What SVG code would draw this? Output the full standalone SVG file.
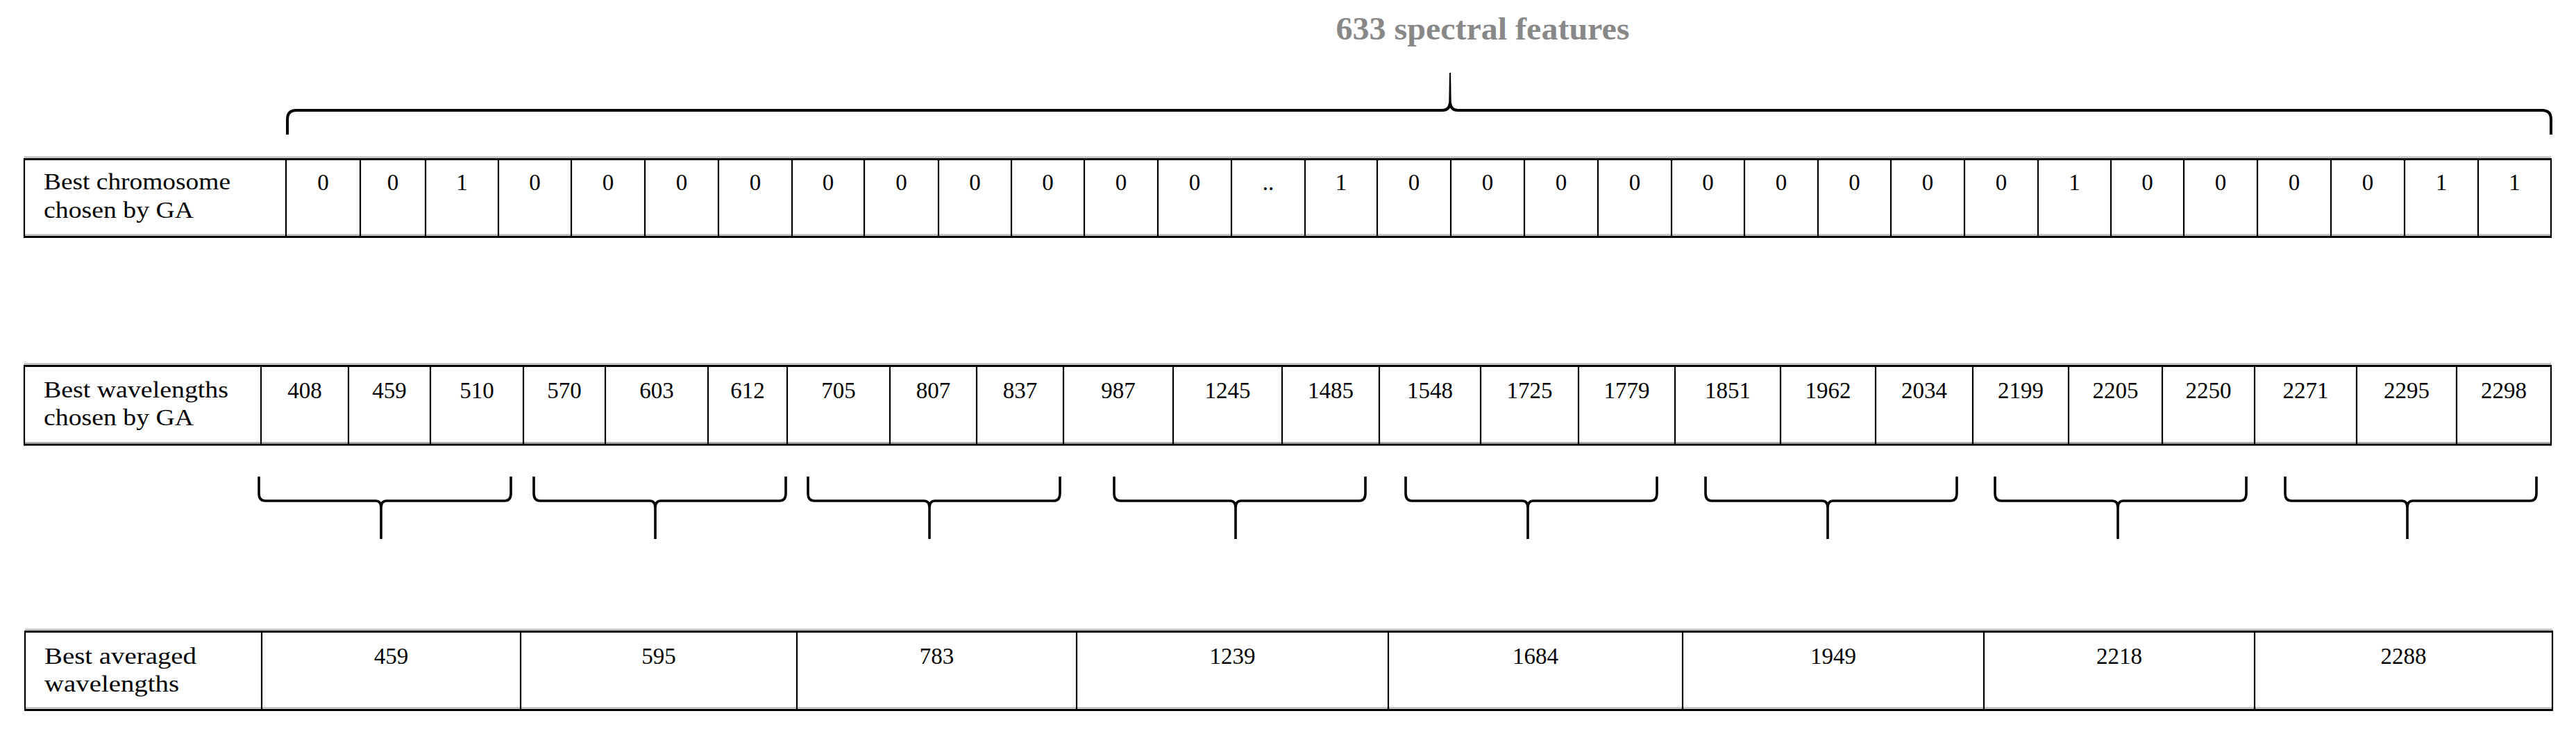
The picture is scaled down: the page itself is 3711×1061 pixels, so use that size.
<svg xmlns="http://www.w3.org/2000/svg" width="3711" height="1061" viewBox="0 0 3711 1061">
<style>
.v{stroke:#000;stroke-width:2.2}
.hb{stroke:#000;stroke-width:3.2}
.hg{stroke:#b3b3b3;stroke-width:2}
.t{font-family:"Liberation Serif","Times New Roman",serif;font-size:33px;fill:#000}
.c{text-anchor:middle}
.title{font-family:"Liberation Serif","Times New Roman",serif;font-size:47px;font-weight:bold;fill:#888;text-anchor:middle}
.brace{fill:none;stroke:#000;stroke-width:3.6;stroke-linejoin:round;stroke-linecap:butt}
.big{fill:none;stroke:#000;stroke-width:4;stroke-linejoin:round}
</style>
<rect width="3711" height="1061" fill="#fff"/>

<g id="title">
<text class="title" x="2136" y="57" textLength="423" lengthAdjust="spacingAndGlyphs">633 spectral features</text>
</g>

<g id="row-chromosome">
<line class="hg" x1="35" y1="226.5" x2="3675" y2="226.5"/>
<line class="hg" x1="35" y1="338.5" x2="3675" y2="338.5"/>
<line class="hb" x1="34" y1="229.5" x2="3676" y2="229.5"/>
<line class="hb" x1="34" y1="341.5" x2="3676" y2="341.5"/>
<g class="v">
<line x1="35" y1="229" x2="35" y2="342"/><line x1="412" y1="229" x2="412" y2="342"/><line x1="519" y1="229" x2="519" y2="342"/><line x1="613" y1="229" x2="613" y2="342"/><line x1="718" y1="229" x2="718" y2="342"/><line x1="823" y1="229" x2="823" y2="342"/><line x1="929" y1="229" x2="929" y2="342"/><line x1="1035" y1="229" x2="1035" y2="342"/><line x1="1141" y1="229" x2="1141" y2="342"/><line x1="1245" y1="229" x2="1245" y2="342"/><line x1="1352" y1="229" x2="1352" y2="342"/><line x1="1457" y1="229" x2="1457" y2="342"/><line x1="1562" y1="229" x2="1562" y2="342"/><line x1="1668" y1="229" x2="1668" y2="342"/><line x1="1774" y1="229" x2="1774" y2="342"/><line x1="1880" y1="229" x2="1880" y2="342"/><line x1="1984" y1="229" x2="1984" y2="342"/><line x1="2090" y1="229" x2="2090" y2="342"/><line x1="2196" y1="229" x2="2196" y2="342"/><line x1="2302" y1="229" x2="2302" y2="342"/><line x1="2408" y1="229" x2="2408" y2="342"/><line x1="2513" y1="229" x2="2513" y2="342"/><line x1="2619" y1="229" x2="2619" y2="342"/><line x1="2724" y1="229" x2="2724" y2="342"/><line x1="2830" y1="229" x2="2830" y2="342"/><line x1="2936" y1="229" x2="2936" y2="342"/><line x1="3041" y1="229" x2="3041" y2="342"/><line x1="3146" y1="229" x2="3146" y2="342"/><line x1="3252" y1="229" x2="3252" y2="342"/><line x1="3358" y1="229" x2="3358" y2="342"/><line x1="3464" y1="229" x2="3464" y2="342"/><line x1="3570" y1="229" x2="3570" y2="342"/><line x1="3675" y1="229" x2="3675" y2="342"/>
</g>
<text class="t" x="63" y="273" textLength="269" lengthAdjust="spacingAndGlyphs">Best chromosome</text>
<text class="t" x="63" y="314" textLength="216" lengthAdjust="spacingAndGlyphs">chosen by GA</text>
<g class="t c">
<text x="465.5" y="274">0</text><text x="566" y="274">0</text><text x="665.5" y="274">1</text><text x="770.5" y="274">0</text><text x="876" y="274">0</text><text x="982" y="274">0</text><text x="1088" y="274">0</text><text x="1193" y="274">0</text><text x="1298.5" y="274">0</text><text x="1404.5" y="274">0</text><text x="1509.5" y="274">0</text><text x="1615" y="274">0</text><text x="1721" y="274">0</text><text x="1827" y="274">..</text><text x="1932" y="274">1</text><text x="2037" y="274">0</text><text x="2143" y="274">0</text><text x="2249" y="274">0</text><text x="2355" y="274">0</text><text x="2460.5" y="274">0</text><text x="2566" y="274">0</text><text x="2671.5" y="274">0</text><text x="2777" y="274">0</text><text x="2883" y="274">0</text><text x="2988.5" y="274">1</text><text x="3093.5" y="274">0</text><text x="3199" y="274">0</text><text x="3305" y="274">0</text><text x="3411" y="274">0</text><text x="3517" y="274">1</text><text x="3622.5" y="274">1</text>
</g>
</g>

<g id="row-wavelengths">
<line class="hg" x1="35" y1="524.5" x2="3675" y2="524.5"/>
<line class="hg" x1="35" y1="638" x2="3675" y2="638"/>
<line class="hb" x1="34" y1="527.5" x2="3676" y2="527.5"/>
<line class="hb" x1="34" y1="641" x2="3676" y2="641"/>
<g class="v">
<line x1="35" y1="527" x2="35" y2="642"/><line x1="376" y1="527" x2="376" y2="642"/><line x1="502" y1="527" x2="502" y2="642"/><line x1="620" y1="527" x2="620" y2="642"/><line x1="754" y1="527" x2="754" y2="642"/><line x1="872" y1="527" x2="872" y2="642"/><line x1="1020" y1="527" x2="1020" y2="642"/><line x1="1134" y1="527" x2="1134" y2="642"/><line x1="1282" y1="527" x2="1282" y2="642"/><line x1="1407" y1="527" x2="1407" y2="642"/><line x1="1532" y1="527" x2="1532" y2="642"/><line x1="1690" y1="527" x2="1690" y2="642"/><line x1="1847" y1="527" x2="1847" y2="642"/><line x1="1987" y1="527" x2="1987" y2="642"/><line x1="2133" y1="527" x2="2133" y2="642"/><line x1="2274" y1="527" x2="2274" y2="642"/><line x1="2413" y1="527" x2="2413" y2="642"/><line x1="2565" y1="527" x2="2565" y2="642"/><line x1="2702" y1="527" x2="2702" y2="642"/><line x1="2842" y1="527" x2="2842" y2="642"/><line x1="2980" y1="527" x2="2980" y2="642"/><line x1="3115" y1="527" x2="3115" y2="642"/><line x1="3248" y1="527" x2="3248" y2="642"/><line x1="3395" y1="527" x2="3395" y2="642"/><line x1="3539" y1="527" x2="3539" y2="642"/><line x1="3675" y1="527" x2="3675" y2="642"/>
</g>
<text class="t" x="63" y="573" textLength="266" lengthAdjust="spacingAndGlyphs">Best wavelengths</text>
<text class="t" x="63" y="613" textLength="216" lengthAdjust="spacingAndGlyphs">chosen by GA</text>
<g class="t c">
<text x="439" y="574">408</text><text x="561" y="574">459</text><text x="687" y="574">510</text><text x="813" y="574">570</text><text x="946" y="574">603</text><text x="1077" y="574">612</text><text x="1208" y="574">705</text><text x="1344.5" y="574">807</text><text x="1469.5" y="574">837</text><text x="1611" y="574">987</text><text x="1768.5" y="574">1245</text><text x="1917" y="574">1485</text><text x="2060" y="574">1548</text><text x="2203.5" y="574">1725</text><text x="2343.5" y="574">1779</text><text x="2489" y="574">1851</text><text x="2633.5" y="574">1962</text><text x="2772" y="574">2034</text><text x="2911" y="574">2199</text><text x="3047.5" y="574">2205</text><text x="3181.5" y="574">2250</text><text x="3321.5" y="574">2271</text><text x="3467" y="574">2295</text><text x="3607" y="574">2298</text>
</g>
</g>

<g id="row-averaged">
<line class="hg" x1="36" y1="907.5" x2="3677" y2="907.5"/>
<line class="hg" x1="36" y1="1020.5" x2="3677" y2="1020.5"/>
<line class="hb" x1="35" y1="910.5" x2="3678" y2="910.5"/>
<line class="hb" x1="35" y1="1023.5" x2="3678" y2="1023.5"/>
<g class="v">
<line x1="36" y1="910" x2="36" y2="1024"/><line x1="377" y1="910" x2="377" y2="1024"/><line x1="750" y1="910" x2="750" y2="1024"/><line x1="1148" y1="910" x2="1148" y2="1024"/><line x1="1551" y1="910" x2="1551" y2="1024"/><line x1="2000" y1="910" x2="2000" y2="1024"/><line x1="2424" y1="910" x2="2424" y2="1024"/><line x1="2858" y1="910" x2="2858" y2="1024"/><line x1="3248" y1="910" x2="3248" y2="1024"/><line x1="3677" y1="910" x2="3677" y2="1024"/>
</g>
<text class="t" x="64" y="957" textLength="219" lengthAdjust="spacingAndGlyphs">Best averaged</text>
<text class="t" x="64" y="997" textLength="194" lengthAdjust="spacingAndGlyphs">wavelengths</text>
<g class="t c">
<text x="563.5" y="957">459</text><text x="949" y="957">595</text><text x="1349.5" y="957">783</text><text x="1775.5" y="957">1239</text><text x="2212" y="957">1684</text><text x="2641" y="957">1949</text><text x="3053" y="957">2218</text><text x="3462.5" y="957">2288</text>
</g>
</g>

<g id="connectors">
<path class="big" d="M414,194 L414,172 Q414,159 427,159 L2078,159 Q2088,159 2089,148 M3675,194 L3675,172 Q3675,159 3662,159 L2100,159 Q2090,159 2089,148"/>
<path d="M2087.2,152 L2088,105 L2090,105 L2090.8,152 Z" fill="#000"/>
<path class="brace" d="M373,687 L373,711 Q373,722 382,722 L541,722 Q549,722 549,732 M736,687 L736,711 Q736,722 727,722 L557,722 Q549,722 549,732 M549,728 L549,777"/>
<path class="brace" d="M769,687 L769,711 Q769,722 778,722 L936,722 Q944,722 944,732 M1132,687 L1132,711 Q1132,722 1123,722 L952,722 Q944,722 944,732 M944,728 L944,777"/>
<path class="brace" d="M1164,687 L1164,711 Q1164,722 1173,722 L1331,722 Q1339,722 1339,732 M1527,687 L1527,711 Q1527,722 1518,722 L1347,722 Q1339,722 1339,732 M1339,728 L1339,777"/>
<path class="brace" d="M1605,687 L1605,711 Q1605,722 1614,722 L1772,722 Q1780,722 1780,732 M1967,687 L1967,711 Q1967,722 1958,722 L1788,722 Q1780,722 1780,732 M1780,728 L1780,777"/>
<path class="brace" d="M2025,687 L2025,711 Q2025,722 2034,722 L2193,722 Q2201,722 2201,732 M2387,687 L2387,711 Q2387,722 2378,722 L2209,722 Q2201,722 2201,732 M2201,728 L2201,777"/>
<path class="brace" d="M2457,687 L2457,711 Q2457,722 2466,722 L2625,722 Q2633,722 2633,732 M2819,687 L2819,711 Q2819,722 2810,722 L2641,722 Q2633,722 2633,732 M2633,728 L2633,777"/>
<path class="brace" d="M2874,687 L2874,711 Q2874,722 2883,722 L3043,722 Q3051,722 3051,732 M3236,687 L3236,711 Q3236,722 3227,722 L3059,722 Q3051,722 3051,732 M3051,728 L3051,777"/>
<path class="brace" d="M3292,687 L3292,711 Q3292,722 3301,722 L3460,722 Q3468,722 3468,732 M3654,687 L3654,711 Q3654,722 3645,722 L3476,722 Q3468,722 3468,732 M3468,728 L3468,777"/>
</g>
</svg>
